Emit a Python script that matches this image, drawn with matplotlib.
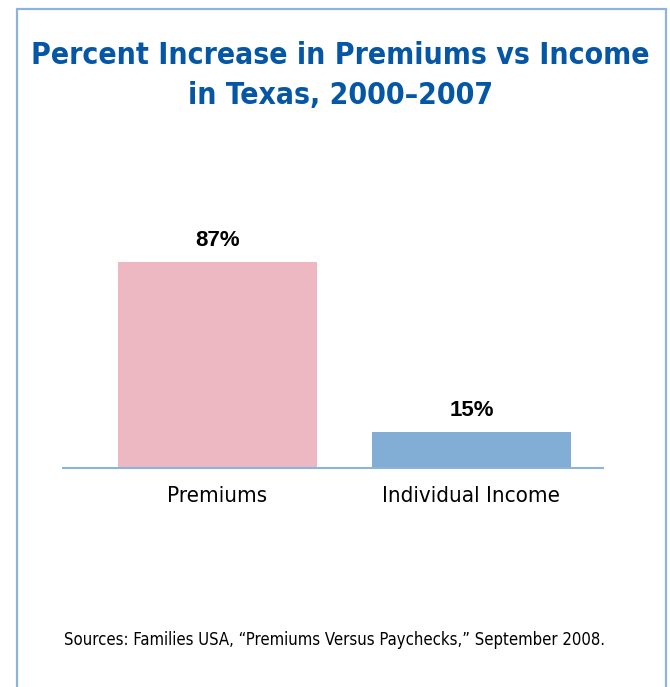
import matplotlib
matplotlib.use('Agg')
import matplotlib.pyplot as plt
from matplotlib.patches import Rectangle

categories = ['Premiums', 'Individual Income']
values = [87, 15]
value_labels = ['87%', '15%']
title = 'Percent Increase in Premiums vs Income\nin Texas, 2000\u20132007'
source = 'Sources: Families USA, \u201cPremiums Versus Paychecks,\u201d September 2008.'

bar_colors = ['#EDB8C2', '#82AED6']
line_color = '#8AB4DA'
title_color = '#0656A6'

cond = dict(family='DejaVu Sans', fontstretch='condensed')

fig = plt.figure(figsize=(6.70, 6.87), dpi=100)

# frame around the chart
fig.patches.append(Rectangle((16.5 / 670, -0.05), (666 - 16.5) / 670, 1.05 - 9 / 687,
                             transform=fig.transFigure, fill=False,
                             edgecolor='#8CB4DC', linewidth=1.6))

fig.text(0.508, 1 - 75.5 / 687, title, ha='center', va='center', color=title_color,
         fontsize=21.6, fontweight='bold', linespacing=1.5, **cond)

ax = fig.add_axes([63 / 670, 1 - 468 / 687, 540 / 670, 237 / 687])
x = [0, 1]
ax.bar(x, values, width=0.783, color=bar_colors)
ax.set_xlim(-0.608, 1.518)
ax.set_ylim(0, 100)

for xi, v, lab in zip(x, values, value_labels):
    ax.annotate(lab, (xi, v), xytext=(0, 8), textcoords='offset points',
                ha='center', va='bottom', fontsize=16, fontweight='bold',
                family='Liberation Sans')

for s in ['top', 'right', 'left']:
    ax.spines[s].set_visible(False)
ax.spines['bottom'].set_color(line_color)
ax.spines['bottom'].set_linewidth(1.5)
ax.set_yticks([])
ax.set_xticks(x)
ax.set_xticklabels(categories, fontsize=16, **cond)
ax.tick_params(axis='x', length=0, pad=13)

fig.text(64 / 670, 1 - 640 / 687, source, ha='left', va='center',
         fontsize=12, **cond)

fig.savefig('out.png', dpi=100)
